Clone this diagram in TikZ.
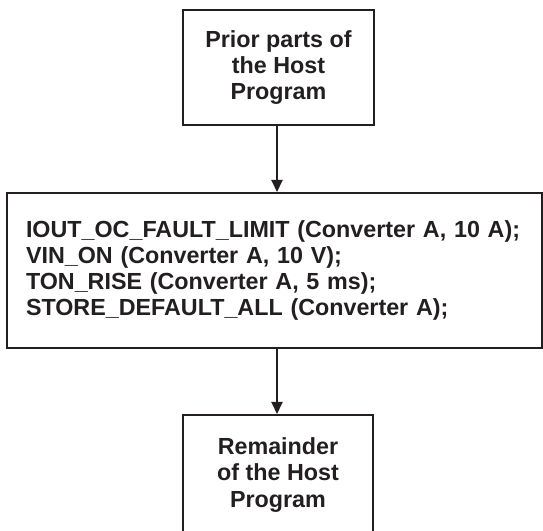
\documentclass[tikz,border=0pt]{standalone}
\usepackage{fontspec}
\setmainfont{Liberation Sans}
\usetikzlibrary{arrows.meta}
\definecolor{ink}{HTML}{231F20}
\begin{document}
\begin{tikzpicture}[x=1pt,y=1pt,
  box/.style={draw=ink, line width=2pt, text=ink, font=\bfseries\fontsize{23.3}{26.3}\selectfont, inner sep=0pt},
  flow/.style={draw=ink, line width=2pt, -{Triangle[length=12pt,width=11pt]}}]
\useasboundingbox (0,0) rectangle (543,530);
\node[box, minimum width=191pt, minimum height=115pt, align=center] (top) at (278.5,462.5) {Prior parts of\\the Host\\Program};
\node[box, minimum width=535pt, minimum height=155pt, align=left, text width=497pt] (mid) at (274.5,259.5) {IOUT\_OC\_FAULT\_LIMIT (Converter A, 10 A);\\VIN\_ON (Converter A, 10 V);\\TON\_RISE (Converter A, 5 ms);\\STORE\_DEFAULT\_ALL (Converter A);};
\node[box, minimum width=190pt, minimum height=120pt, align=center] (bot) at (278,55) {Remainder\\of the Host\\Program};
\draw[flow] (277,0 |- top.south) -- (277,0 |- mid.north);
\draw[flow] (277,0 |- mid.south) -- (277,0 |- bot.north);
\end{tikzpicture}
\end{document}
